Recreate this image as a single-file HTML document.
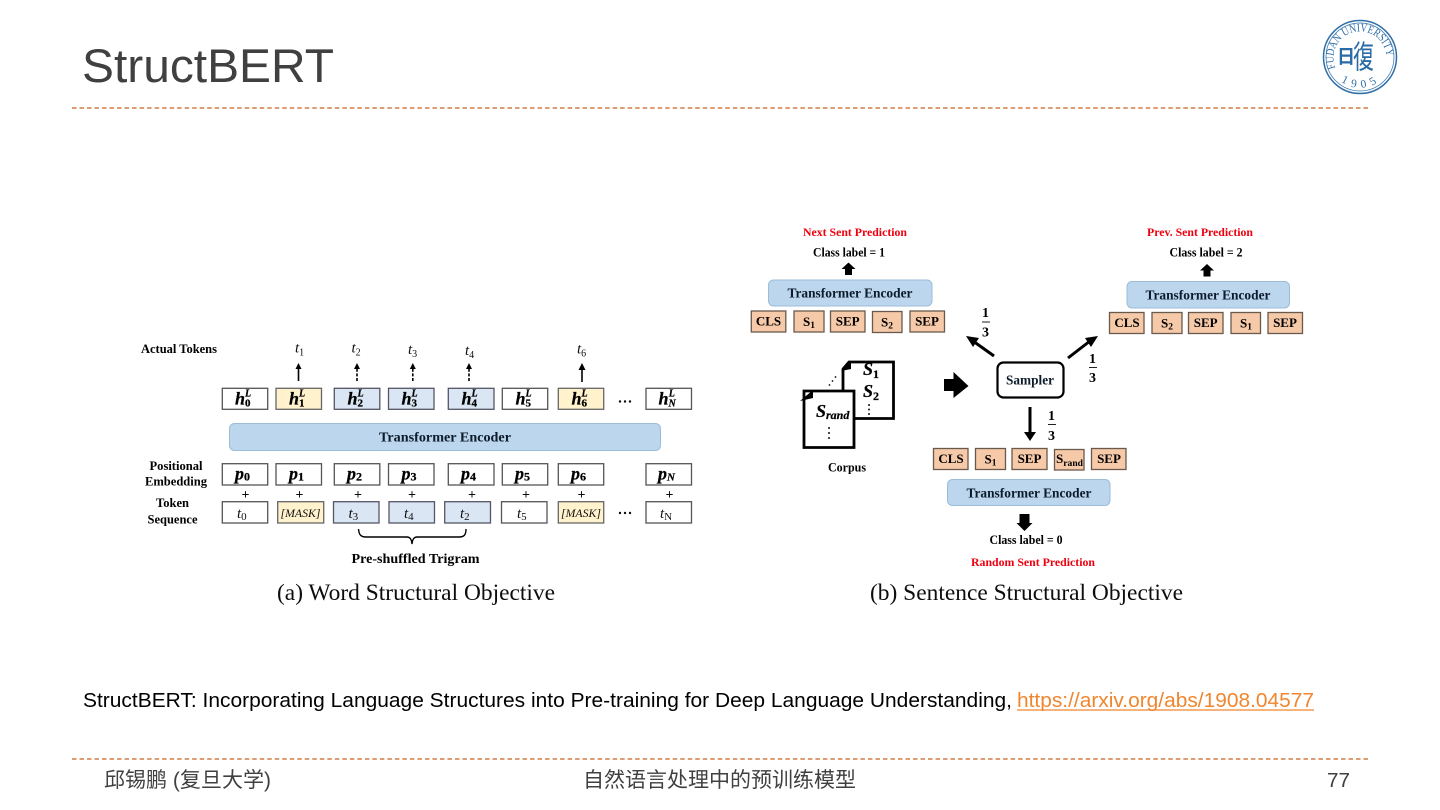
<!DOCTYPE html>
<html><head><meta charset="utf-8"><style>
html,body{margin:0;padding:0;background:#fff;width:1440px;height:810px;overflow:hidden}
svg{display:block}
.s{font-family:"Liberation Sans","Noto Sans CJK SC",sans-serif}
.f{font-family:"Liberation Serif",serif;font-weight:bold}
.m{font-family:"Liberation Serif",serif;font-weight:bold;font-style:italic;font-size:18px;fill:#000;stroke:#000;stroke-width:.25}
.i{font-family:"Liberation Serif",serif;font-style:italic;font-size:15px;fill:#111}
.l{font-family:"Liberation Serif",serif;font-weight:bold;font-size:12.5px;fill:#000}
.w{fill:#fff;stroke:#555;stroke-width:1.3}
.y{fill:#fff2cc;stroke:#666;stroke-width:1.3}
.b{fill:#dae6f3;stroke:#556;stroke-width:1.3}
.o{fill:#f6c9a8;stroke:#6a5a4e;stroke-width:1.3}
.e{fill:#bcd6ee;stroke:#9cbcd8;stroke-width:1}
.t{font-family:"Liberation Serif",serif;font-weight:bold;font-size:14px;fill:#0c1a2a;text-anchor:middle}
.c{font-family:"Liberation Serif",serif;font-weight:bold;font-size:13px;fill:#000;text-anchor:middle}
.k{font-family:"Liberation Serif",serif;font-weight:bold;font-size:12.2px;fill:#000;text-anchor:middle}
.r{font-family:"Liberation Serif",serif;font-weight:bold;font-size:12px;fill:#f00010;text-anchor:middle}
.g{font-family:"Liberation Serif",serif;font-size:23.500px;fill:#111}
.a{stroke:#000;stroke-width:1.6;fill:none}
</style></head><body>
<svg width="1440" height="810" viewBox="0 0 1440 810" xmlns="http://www.w3.org/2000/svg">
<rect width="1440" height="810" fill="#fff"/>
<text class="s" x="82" y="82" font-size="47.5" fill="#404040" textLength="252" lengthAdjust="spacingAndGlyphs">StructBERT</text>
<line x1="72" y1="108" x2="1368" y2="108" stroke="#c8641f" stroke-width="1.2" stroke-dasharray="4.5 3.009"/>
<line x1="72" y1="759" x2="1368" y2="759" stroke="#c8641f" stroke-width="1.2" stroke-dasharray="4.5 3.009"/>

<!-- logo -->
<g fill="none" stroke="#2f6fa8">
<circle cx="1360" cy="57" r="36.500" stroke-width="1.5"/>
<circle cx="1360" cy="57" r="34" stroke-width="0.7"/>
<path id="lg1" d="M1335.500 68 A26.500 26.500 0 1 1 1384.500 68" stroke="none"/>
<path id="lg2" d="M1338 79 A32 32 0 0 0 1382 79" stroke="none"/>
</g>
<text font-family="Liberation Serif,serif" font-size="11.500" fill="#2f6fa8"><textPath href="#lg1" textLength="92" lengthAdjust="spacingAndGlyphs">FUDAN UNIVERSITY</textPath></text>
<text font-family="Liberation Serif,serif" font-size="11.500" fill="#2f6fa8" letter-spacing="5"><textPath href="#lg2" startOffset="4">1905</textPath></text>
<text transform="translate(1337,63) scale(0.95,1)" font-family="Noto Sans CJK SC,sans-serif" font-weight="bold" font-size="19" fill="#2a6aa5">日</text>
<text transform="translate(1353,68) scale(1.05,1.6)" font-family="Noto Sans CJK TC,sans-serif" font-size="20" fill="#2a6aa5">復</text>

<g filter="url(#bl)">
<defs><filter id="bl" x="-2%" y="-2%" width="104%" height="104%"><feGaussianBlur stdDeviation="0.3"/></filter></defs>
<text class="l" x="141" y="353" textLength="76" lengthAdjust="spacingAndGlyphs">Actual Tokens</text>
<text class="l" x="149.500" y="470" textLength="53" lengthAdjust="spacingAndGlyphs">Positional</text>
<text class="l" x="145" y="485.500" textLength="62" lengthAdjust="spacingAndGlyphs">Embedding</text>
<text class="l" x="156" y="507" textLength="33" lengthAdjust="spacingAndGlyphs">Token</text>
<text class="l" x="147.500" y="523.500" textLength="50" lengthAdjust="spacingAndGlyphs">Sequence</text>

<text class="i" x="295" y="352.500">t<tspan font-size="10" dy="3" font-style="normal">1</tspan></text>
<text class="i" x="351.500" y="352.500">t<tspan font-size="10" dy="3" font-style="normal">2</tspan></text>
<text class="i" x="408" y="354">t<tspan font-size="10" dy="3" font-style="normal">3</tspan></text>
<text class="i" x="465" y="355">t<tspan font-size="10" dy="3" font-style="normal">4</tspan></text>
<text class="i" x="577" y="353.500">t<tspan font-size="10" dy="3" font-style="normal">6</tspan></text>

<path class="a" d="M298.500 381V368"/><path d="M298.500 363l-3 6h6z"/>
<path class="a" d="M357 381V368" stroke-dasharray="3 1.6"/><path d="M357 363l-3 6h6z"/>
<path class="a" d="M412.800 381V368" stroke-dasharray="3 1.6"/><path d="M412.800 363l-3 6h6z"/>
<path class="a" d="M469 381V368" stroke-dasharray="3 1.6"/><path d="M469 363l-3 6h6z"/>
<path class="a" d="M582 382V368" stroke-width="2"/><path d="M582 363l-3.500 7h7z"/>

<rect class="w" x="222.300" y="388.300" width="45.400" height="21"/>
<rect class="y" x="276" y="388.300" width="45.500" height="21"/>
<rect class="b" x="334.300" y="388.300" width="45.500" height="21"/>
<rect class="b" x="388.500" y="388.300" width="45.500" height="21"/>
<rect class="b" x="448.300" y="388.300" width="45.700" height="21"/>
<rect class="w" x="502.300" y="388.300" width="45.400" height="21"/>
<rect class="y" x="558.300" y="388.300" width="45.400" height="21"/>
<rect class="w" x="646" y="388.300" width="45.500" height="21"/>
<text class="m" x="235" y="404.500">h<tspan font-size="11" dy="2" font-style="normal">0</tspan><tspan font-size="10" dx="-5.500" dy="-10">L</tspan></text>
<text class="m" x="289" y="404.500">h<tspan font-size="11" dy="2" font-style="normal">1</tspan><tspan font-size="10" dx="-5.500" dy="-10">L</tspan></text>
<text class="m" x="347.500" y="404.500">h<tspan font-size="11" dy="2" font-style="normal">2</tspan><tspan font-size="10" dx="-5.500" dy="-10">L</tspan></text>
<text class="m" x="401.500" y="404.500">h<tspan font-size="11" dy="2" font-style="normal">3</tspan><tspan font-size="10" dx="-5.500" dy="-10">L</tspan></text>
<text class="m" x="461.500" y="404.500">h<tspan font-size="11" dy="2" font-style="normal">4</tspan><tspan font-size="10" dx="-5.500" dy="-10">L</tspan></text>
<text class="m" x="515.500" y="404.500">h<tspan font-size="11" dy="2" font-style="normal">5</tspan><tspan font-size="10" dx="-5.500" dy="-10">L</tspan></text>
<text class="m" x="571.500" y="404.500">h<tspan font-size="11" dy="2" font-style="normal">6</tspan><tspan font-size="10" dx="-5.500" dy="-10">L</tspan></text>
<text class="m" x="658.500" y="404.500">h<tspan font-size="10" dy="2">N</tspan><tspan font-size="10" dx="-7" dy="-10">L</tspan></text>
<g fill="#111"><circle cx="620" cy="401.500" r="1.200"/><circle cx="625" cy="401.500" r="1.200"/><circle cx="630" cy="401.500" r="1.200"/>
<circle cx="620" cy="513" r="1.200"/><circle cx="625" cy="513" r="1.200"/><circle cx="630" cy="513" r="1.200"/></g>

<rect class="e" x="229.500" y="423.500" width="431" height="27" rx="5"/>
<text class="t" x="445" y="441.500" textLength="132" lengthAdjust="spacingAndGlyphs">Transformer Encoder</text>

<rect class="w" x="222.300" y="463.700" width="45.400" height="21.300"/>
<rect class="w" x="276" y="463.700" width="45.500" height="21.300"/>
<rect class="w" x="334.300" y="463.700" width="45.500" height="21.300"/>
<rect class="w" x="388.500" y="463.700" width="45.500" height="21.300"/>
<rect class="w" x="448.300" y="463.700" width="45.700" height="21.300"/>
<rect class="w" x="502.300" y="463.700" width="45.400" height="21.300"/>
<rect class="w" x="558.300" y="463.700" width="45.400" height="21.300"/>
<rect class="w" x="646" y="463.700" width="45.500" height="21.300"/>
<text class="m" x="235" y="479.500">p<tspan font-size="12" dy="1" font-style="normal">0</tspan></text>
<text class="m" x="289" y="479.500">p<tspan font-size="12" dy="1" font-style="normal">1</tspan></text>
<text class="m" x="347" y="479.500">p<tspan font-size="12" dy="1" font-style="normal">2</tspan></text>
<text class="m" x="401.500" y="479.500">p<tspan font-size="12" dy="1" font-style="normal">3</tspan></text>
<text class="m" x="461" y="479.500">p<tspan font-size="12" dy="1" font-style="normal">4</tspan></text>
<text class="m" x="515" y="479.500">p<tspan font-size="12" dy="1" font-style="normal">5</tspan></text>
<text class="m" x="571" y="479.500">p<tspan font-size="12" dy="1" font-style="normal">6</tspan></text>
<text class="m" x="658" y="479.500">p<tspan font-size="11" dy="1">N</tspan></text>

<g font-family="Liberation Serif,serif" font-weight="bold" font-size="14" fill="#111" text-anchor="middle">
<text x="245.500" y="499">+</text><text x="299.500" y="499">+</text><text x="358" y="499">+</text><text x="412" y="499">+</text><text x="472" y="499">+</text><text x="526" y="499">+</text><text x="581.500" y="499">+</text><text x="669.500" y="499">+</text>
</g>

<rect class="w" x="222.300" y="501.700" width="45.400" height="21.300"/>
<rect class="y" x="277.700" y="501.700" width="46" height="21.300"/>
<rect class="b" x="333.500" y="501.700" width="45.500" height="21.300"/>
<rect class="b" x="389" y="501.700" width="45.500" height="21.300"/>
<rect class="b" x="444.700" y="501.700" width="45.800" height="21.300"/>
<rect class="w" x="501.500" y="501.700" width="45.500" height="21.300"/>
<rect class="y" x="558.300" y="501.700" width="45.400" height="21.300"/>
<rect class="w" x="646" y="501.700" width="45.500" height="21.300"/>
<text class="i" x="237" y="518">t<tspan font-size="11" dy="2" font-style="normal">0</tspan></text>
<text class="i" x="348.500" y="518">t<tspan font-size="11" dy="2" font-style="normal">3</tspan></text>
<text class="i" x="404" y="518">t<tspan font-size="11" dy="2" font-style="normal">4</tspan></text>
<text class="i" x="460" y="518">t<tspan font-size="11" dy="2" font-style="normal">2</tspan></text>
<text class="i" x="517" y="518">t<tspan font-size="11" dy="2" font-style="normal">5</tspan></text>
<text class="i" x="660" y="518">t<tspan font-size="11" dy="2" font-style="normal">N</tspan></text>
<text class="i" x="280.500" y="517" style="font-size:12px" textLength="40" lengthAdjust="spacingAndGlyphs">[MASK]</text>
<text class="i" x="561" y="517" style="font-size:12px" textLength="40" lengthAdjust="spacingAndGlyphs">[MASK]</text>

<path d="M358.500 529C359 535 361 537 366 537H407C410 537 411.500 539 412 544C412.500 539 414 537 417 537H459C464 537 466 535 466 529" fill="none" stroke="#000" stroke-width="1.400"/>
<text class="f" x="351.500" y="563" font-size="13.500" fill="#000" textLength="128" lengthAdjust="spacingAndGlyphs">Pre-shuffled Trigram</text>
<text class="g" x="277" y="600" textLength="278" lengthAdjust="spacingAndGlyphs">(a) Word Structural Objective</text>

<!-- right diagram -->
<text class="r" x="855" y="236" textLength="104" lengthAdjust="spacingAndGlyphs">Next Sent Prediction</text>
<text class="k" x="849" y="256.500" textLength="72" lengthAdjust="spacingAndGlyphs">Class label = 1</text>
<path d="M848.500 262.500l7 6.500h-3.500v6h-7v-6h-3.500z" fill="#000"/>
<rect class="e" x="768.500" y="280" width="163.500" height="26" rx="5"/>
<text class="t" x="850" y="297.500" textLength="125" lengthAdjust="spacingAndGlyphs">Transformer Encoder</text>
<rect class="o" x="751.300" y="311" width="34.500" height="21"/>
<rect class="o" x="794" y="311" width="30" height="21"/>
<rect class="o" x="830.500" y="311" width="34.500" height="21"/>
<rect class="o" x="872.500" y="311.500" width="29.500" height="21"/>
<rect class="o" x="910" y="311" width="34.500" height="21"/>
<text class="c" x="768.500" y="325.500">CLS</text><text class="c" x="809" y="326">S<tspan font-size="9.500" dy="2">1</tspan></text><text class="c" x="847.700" y="325.500">SEP</text><text class="c" x="887" y="326.500">S<tspan font-size="9.500" dy="2">2</tspan></text><text class="c" x="927" y="325.500">SEP</text>

<text class="r" x="1200" y="236" textLength="106" lengthAdjust="spacingAndGlyphs">Prev. Sent Prediction</text>
<text class="k" x="1206" y="256.500" textLength="73" lengthAdjust="spacingAndGlyphs">Class label = 2</text>
<path d="M1207 264l7 6.500h-3.500v6h-7v-6h-3.500z" fill="#000"/>
<rect class="e" x="1127" y="281.500" width="162.500" height="26.500" rx="5"/>
<text class="t" x="1208" y="299.500" textLength="125" lengthAdjust="spacingAndGlyphs">Transformer Encoder</text>
<rect class="o" x="1109.500" y="312.500" width="34.500" height="21"/>
<rect class="o" x="1152" y="312.500" width="30" height="21"/>
<rect class="o" x="1188.500" y="312.500" width="34.500" height="21"/>
<rect class="o" x="1231" y="312.500" width="29.500" height="21"/>
<rect class="o" x="1268" y="312.500" width="34.500" height="21"/>
<text class="c" x="1127" y="327">CLS</text><text class="c" x="1167" y="327.500">S<tspan font-size="9.500" dy="2">2</tspan></text><text class="c" x="1205.700" y="327">SEP</text><text class="c" x="1246" y="327.500">S<tspan font-size="9.500" dy="2">1</tspan></text><text class="c" x="1285" y="327">SEP</text>

<!-- Sampler -->
<rect x="997.500" y="362.500" width="66" height="35" rx="6" fill="#fff" stroke="#000" stroke-width="2.200"/>
<text class="t" x="1030" y="384.500" textLength="48" lengthAdjust="spacingAndGlyphs">Sampler</text>
<path d="M944 379h9.500v-7l15 14-15 12v-7h-9.500z" fill="#000"/>
<path d="M994 356L973 341" stroke="#000" stroke-width="3"/><path d="M966 336l13 2-6 9z" fill="#000"/>
<path d="M1068 358L1090 341" stroke="#000" stroke-width="3"/><path d="M1098 336l-13 2 6 9z" fill="#000"/>
<path d="M1030 407V432" stroke="#000" stroke-width="3"/><path d="M1030 441l-6-9h12z" fill="#000"/>

<g class="f" font-size="14" fill="#000" text-anchor="middle">
<text x="985.500" y="317">1</text><path d="M982 322h8" stroke="#222" stroke-width="1"/><text x="985.500" y="336.500">3</text>
<text x="1092.500" y="363">1</text><path d="M1089 367.500h8" stroke="#222" stroke-width="1"/><text x="1092.500" y="382">3</text>
<text x="1051.500" y="420">1</text><path d="M1048 424.500h8" stroke="#222" stroke-width="1"/><text x="1051.500" y="440">3</text>
</g>

<!-- Corpus -->
<path d="M849 362H893.500V418.500H843V369z" fill="#fff" stroke="#000" stroke-width="2.800"/>
<path d="M841 371l10-9v7z" fill="#000"/>
<path d="M804 391V447.500H854V391H812z" fill="#fff" stroke="#000" stroke-width="2.800"/>
<path d="M800 401l13-11v8z" fill="#000"/>
<text class="m" x="863" y="375">S<tspan font-size="12" dy="3" font-style="normal">1</tspan></text>
<text class="m" x="863" y="397">S<tspan font-size="12" dy="3" font-style="normal">2</tspan></text>
<text class="m" x="816" y="417">S<tspan font-size="12" dy="2">rand</tspan></text>
<g fill="#111"><circle cx="869" cy="405" r="1"/><circle cx="869" cy="409.500" r="1"/><circle cx="869" cy="414" r="1"/>
<circle cx="829" cy="428" r="1"/><circle cx="829" cy="433" r="1"/><circle cx="829" cy="438" r="1"/>
<circle cx="829.500" cy="385" r="0.900"/><circle cx="832.500" cy="381" r="0.900"/><circle cx="835.500" cy="377" r="0.900"/></g>
<text class="k" x="847" y="471.500" textLength="38" lengthAdjust="spacingAndGlyphs">Corpus</text>

<!-- bottom -->
<rect class="o" x="933.500" y="448.500" width="34.500" height="21"/>
<rect class="o" x="975.500" y="448.500" width="30" height="21"/>
<rect class="o" x="1012" y="448.500" width="35" height="21"/>
<rect class="o" x="1054.500" y="449.500" width="29.500" height="20.500"/>
<rect class="o" x="1091.500" y="448.500" width="34.500" height="21"/>
<text class="c" x="951" y="463">CLS</text><text class="c" x="990.500" y="463.500">S<tspan font-size="9.500" dy="2">1</tspan></text><text class="c" x="1029.500" y="463">SEP</text><text class="c" x="1069.500" y="463" textLength="27" lengthAdjust="spacingAndGlyphs">S<tspan font-size="9.500" dy="3">rand</tspan></text><text class="c" x="1109" y="463">SEP</text>
<rect class="e" x="947.500" y="479.500" width="162.500" height="26" rx="5"/>
<text class="t" x="1029" y="497.500" textLength="125" lengthAdjust="spacingAndGlyphs">Transformer Encoder</text>
<path d="M1019.500 514h10v9h3l-8 8-8-8h3z" fill="#000"/>
<text class="k" x="1026" y="544" textLength="73" lengthAdjust="spacingAndGlyphs">Class label = 0</text>
<text class="r" x="1033" y="566" textLength="124" lengthAdjust="spacingAndGlyphs">Random Sent Prediction</text>
<text class="g" x="870" y="600" textLength="313" lengthAdjust="spacingAndGlyphs">(b) Sentence Structural Objective</text>
</g>

<!-- citation -->
<text class="s" x="83" y="707" font-size="20.600" fill="#000" textLength="929" lengthAdjust="spacingAndGlyphs">StructBERT: Incorporating Language Structures into Pre-training for Deep Language Understanding,</text>
<text class="s" x="1017" y="707" font-size="20.600" fill="#f0862e" textLength="297" lengthAdjust="spacingAndGlyphs">https://arxiv.org/abs/1908.04577</text>
<line x1="1017" y1="710" x2="1314" y2="710" stroke="#f0862e" stroke-width="1.200"/>

<!-- footer -->
<text class="s" x="104" y="787" font-size="21" fill="#404040" textLength="167" lengthAdjust="spacingAndGlyphs">邱锡鹏 (复旦大学)</text>
<text class="s" x="583" y="787" font-size="21" fill="#404040" textLength="273" lengthAdjust="spacingAndGlyphs">自然语言处理中的预训练模型</text>
<text class="s" x="1327" y="787" font-size="20.500" fill="#404040" textLength="23" lengthAdjust="spacingAndGlyphs">77</text>
</svg>
</body></html>
